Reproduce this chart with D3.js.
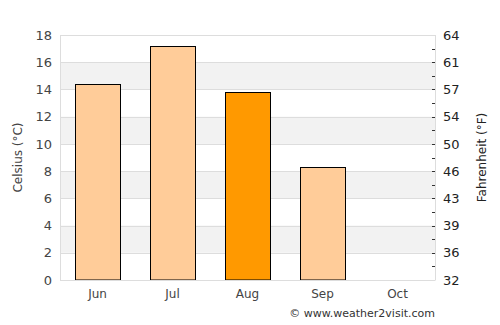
<!DOCTYPE html>
<html><head><meta charset="utf-8">
<script src="https://cdn.jsdelivr.net/npm/d3@7"></script>
<style>body{margin:0;background:#fff}svg{display:block;font-family:"DejaVu Sans",sans-serif}</style>
</head><body><svg id="c" width="500" height="325"></svg>
<script>
const months = ["Jun","Jul","Aug","Sep","Oct"];
const tempC = [14.4, 17.2, 13.8, 8.3, null];
const highlight = "Aug";
const cTicks = [0,2,4,6,8,10,12,14,16,18];
const fLabels = ["32","36","39","43","46","50","54","57","61","64"];

const svg = d3.select("#c");
const m = {l:60, r:435, t:35, b:280};
const x = d3.scaleBand().domain(months).range([m.l, m.r]).paddingInner(0.4).paddingOuter(0.2);
const y = d3.scaleLinear().domain([0,18]).range([m.b, m.t]);

// bands
for (let i = 0; i < cTicks.length - 1; i++) {
  if (i % 2 === 1) {
    svg.append("rect").attr("x", m.l).attr("width", m.r - m.l)
      .attr("y", y(cTicks[i+1])).attr("height", y(cTicks[i]) - y(cTicks[i+1]))
      .attr("fill", "#f2f2f2");
  }
}
// grid
svg.append("g").selectAll("line").data(cTicks).join("line")
  .attr("x1", m.l).attr("x2", m.r)
  .attr("y1", d => Math.round(y(d)) + 0.5).attr("y2", d => Math.round(y(d)) + 0.5)
  .attr("stroke", "#dddddd");
// frame
svg.append("line").attr("x1", m.l+0.5).attr("x2", m.l+0.5).attr("y1", m.t).attr("y2", m.b).attr("stroke", "#dddddd");
svg.append("line").attr("x1", m.r+0.5).attr("x2", m.r+0.5).attr("y1", m.t).attr("y2", m.b).attr("stroke", "#dddddd");

// bars
svg.append("g").selectAll("rect").data(months.map((mo,i)=>({mo, v: tempC[i]})).filter(d => d.v != null))
  .join("rect")
  .attr("x", d => Math.round(x(d.mo)) + 0.5)
  .attr("width", x.bandwidth())
  .attr("y", d => Math.round(y(d.v)) + 0.5)
  .attr("height", d => y(0) - Math.round(y(d.v)) - 0.5)
  .attr("fill", d => d.mo === highlight ? "#ff9900" : "#ffcc99")
  .attr("stroke", "#000").attr("stroke-width", 1);

// left axis
const yl = d3.axisLeft(y).tickValues(cTicks).tickSize(0).tickPadding(8);
const gl = svg.append("g").attr("transform", `translate(${m.l},0)`).call(yl);
gl.select(".domain").remove();
gl.selectAll("text").attr("font-size", 13).attr("fill", "#444").attr("font-family", "DejaVu Sans");

// right axis
const yr = d3.axisRight(y).tickValues(cTicks).tickSize(0).tickPadding(8).tickFormat((d,i) => fLabels[i]);
const gr = svg.append("g").attr("transform", `translate(${m.r},0)`).call(yr);
gr.select(".domain").remove();
gr.selectAll("text").attr("font-size", 13).attr("fill", "#222").attr("font-family", "DejaVu Sans");
const allTicks = d3.range(0, 18.01, 1);
svg.append("g").selectAll("line").data(allTicks.filter(d => d > 0 && d < 18)).join("line")
  .attr("x1", m.r - 3).attr("x2", m.r)
  .attr("y1", d => Math.round(y(d)) + 0.5).attr("y2", d => Math.round(y(d)) + 0.5)
  .attr("stroke", "#333");

// x axis
const xa = d3.axisBottom(x).tickSize(0).tickPadding(9);
const gx = svg.append("g").attr("transform", `translate(0,${m.b})`).call(xa);
gx.select(".domain").attr("stroke", "#dddddd");
gx.selectAll("text").attr("font-size", 12).attr("fill", "#444").attr("font-family", "DejaVu Sans");

// titles
svg.append("text").attr("transform", `translate(22,${(m.t+m.b)/2}) rotate(-90)`)
  .attr("text-anchor", "middle").attr("font-size", 12).attr("fill", "#444").text("Celsius (°C)");
svg.append("text").attr("transform", `translate(486,${(m.t+m.b)/2}) rotate(-90)`)
  .attr("text-anchor", "middle").attr("font-size", 12).attr("fill", "#222").text("Fahrenheit (°F)");
svg.append("text").attr("x", 435).attr("y", 317).attr("text-anchor", "end")
  .attr("font-size", 11).attr("fill", "#333").text("© www.weather2visit.com");
</script></body></html>
